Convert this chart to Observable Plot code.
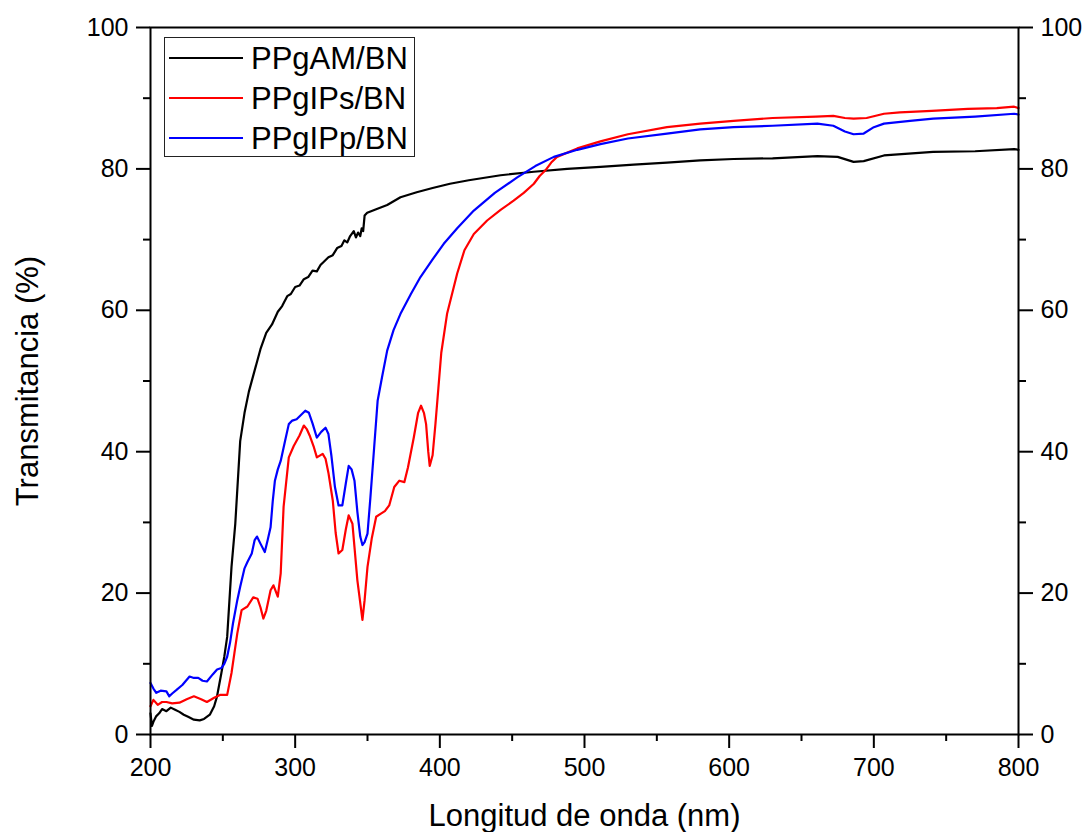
<!DOCTYPE html>
<html>
<head>
<meta charset="utf-8">
<script src="https://cdn.jsdelivr.net/npm/d3@7"></script>
<script src="https://cdn.jsdelivr.net/npm/@observablehq/plot@0.6"></script>
<style>
  html, body { margin: 0; padding: 0; background: #fff; }
  #wrap { position: relative; width: 1086px; height: 832px; font-family: "Liberation Sans", Arial, sans-serif; }
  #legend { position: absolute; left: 164px; top: 37px; width: 249px; height: 118px; border: 1.5px solid #222; background: #fff; }
  .row { position: absolute; left: 0; height: 40px; display: flex; align-items: center; }
  .row .sw { width: 74px; height: 0; border-top: 2.5px solid #000; margin-left: 4px; margin-right: 8px; }
  .row span { font-size: 31px; color: #000; line-height: 1; }
</style>
</head>
<body>
<div id="wrap"><div id="chart"></div><div id="legend"></div></div>
<script>
// ---- data ----
const seriesNames = ["PPgAM/BN", "PPgIPs/BN", "PPgIPp/BN"];
const seriesColors = ["#000000", "#ff0000", "#0000ff"];

const amNm = [200, 201, 202, 204, 206, 208, 211, 214, 217, 220, 223, 226, 230, 234, 237, 241, 244, 246, 249, 251, 253, 256, 258.6, 262, 265, 268, 272, 276, 280, 284, 288, 291, 294.5, 297, 300, 303, 306, 309, 312, 315, 317.5, 320, 323, 326, 329, 332, 334, 336, 338, 340.5, 342, 343.5, 345, 346, 347, 348, 349.8, 356, 363.6, 372.8, 384, 395, 407, 420, 442, 465, 488, 511, 534, 557, 580, 603, 630, 661, 675, 686, 693, 707, 741, 770, 797, 800];
const amT  = [3.0, 1.2, 1.8, 2.6, 3.0, 3.6, 3.3, 3.8, 3.5, 3.2, 2.8, 2.5, 2.1, 2.0, 2.2, 2.8, 4.0, 5.4, 8.7, 11.0, 13.8, 23.7, 29.8, 41.5, 45.5, 48.5, 51.5, 54.5, 56.8, 58.0, 59.8, 60.6, 62.0, 62.3, 63.3, 63.5, 64.4, 64.7, 65.6, 65.5, 66.4, 66.9, 67.5, 67.8, 68.8, 69.1, 69.9, 69.6, 70.5, 71.2, 70.3, 71.0, 70.5, 71.6, 71.2, 73.4, 73.8, 74.3, 74.9, 76.0, 76.7, 77.3, 77.9, 78.4, 79.1, 79.6, 80.0, 80.3, 80.6, 80.9, 81.2, 81.4, 81.5, 81.8, 81.7, 81.0, 81.1, 81.9, 82.4, 82.5, 82.8, 82.7];

const psNm = [200, 202, 205, 208, 211, 215, 220, 225, 230, 235, 239, 244, 248, 253, 256, 258, 260, 263, 267, 271, 274, 276, 278, 280, 283, 285, 288, 290, 292, 295.6, 299, 303, 306, 308, 310, 313, 315, 319, 321, 323, 326, 328, 330, 332.6, 335, 337, 339.6, 341, 343, 346.5, 348, 350, 353, 356, 359, 362, 365, 368.5, 372, 375.5, 378, 382, 385, 387, 389, 390.5, 392, 393, 395, 397, 399, 401, 405, 412, 417, 423.5, 432.7, 442, 451, 458, 465, 469, 473, 477, 481, 495, 511, 530, 557, 580, 603, 630, 660, 672, 680, 686, 695, 707, 718, 740, 765, 785, 797, 800];
const psT  = [4.0, 4.9, 4.2, 4.6, 4.6, 4.4, 4.5, 5.0, 5.4, 5.0, 4.6, 5.2, 5.6, 5.6, 8.7, 11.5, 14.3, 17.6, 18.1, 19.4, 19.2, 18.0, 16.4, 17.5, 20.4, 21.1, 19.5, 22.8, 32.2, 39.2, 40.8, 42.3, 43.7, 43.2, 42.3, 40.6, 39.2, 39.7, 39.0, 37.0, 33.1, 28.5, 25.6, 26.1, 29.0, 31.0, 29.8, 26.5, 21.8, 16.2, 19.0, 23.7, 27.8, 30.8, 31.2, 31.6, 32.4, 35.0, 35.9, 35.7, 37.8, 42.0, 45.5, 46.5, 45.5, 43.9, 40.0, 38.0, 39.5, 44.0, 49.0, 54.0, 59.5, 65.2, 68.5, 70.8, 72.7, 74.2, 75.5, 76.6, 77.9, 79.0, 79.8, 80.9, 81.7, 82.9, 83.9, 84.9, 85.9, 86.4, 86.8, 87.2, 87.4, 87.5, 87.2, 87.1, 87.2, 87.8, 88.0, 88.2, 88.5, 88.6, 88.8, 88.6];

const ppNm = [200, 202, 204, 207, 211, 213, 215, 218, 222, 227, 230, 233, 236, 239, 243, 246, 249, 251, 253, 255, 257, 260, 262, 265, 267, 270, 272, 273.6, 276, 279, 281, 283, 284.5, 286, 288, 290, 293, 295.6, 298, 301, 304, 307, 309.5, 312, 315, 318, 321, 323, 325, 327.5, 330, 332.6, 335, 337, 339, 341, 343, 345, 346.5, 348, 350, 352, 354.6, 357, 360, 363.6, 368, 372.8, 380, 386.6, 395, 402.7, 412, 423.5, 438, 453.5, 466, 478.8, 495, 511, 530, 557, 580, 603, 630, 661, 672, 680, 686, 693, 700, 707, 725, 741, 770, 797, 800];
const ppT  = [7.3, 6.5, 5.9, 6.2, 6.1, 5.4, 5.8, 6.3, 7.0, 8.2, 8.0, 8.0, 7.6, 7.5, 8.5, 9.2, 9.4, 10.0, 11.0, 13.0, 15.7, 19.0, 20.9, 23.5, 24.4, 25.6, 27.5, 28.0, 27.0, 25.8, 27.5, 29.3, 33.0, 35.9, 37.5, 38.7, 41.5, 43.9, 44.4, 44.6, 45.2, 45.8, 45.5, 44.0, 42.0, 42.8, 43.4, 42.5, 39.5, 35.0, 32.4, 32.4, 35.5, 38.0, 37.5, 35.9, 31.5, 28.0, 26.8, 27.2, 28.4, 33.5, 40.6, 47.2, 50.5, 54.3, 57.2, 59.5, 62.3, 64.7, 67.2, 69.4, 71.6, 74.1, 76.6, 78.8, 80.4, 81.7, 82.7, 83.5, 84.3, 85.0, 85.6, 85.9, 86.1, 86.4, 86.1, 85.3, 84.9, 85.0, 85.9, 86.4, 86.8, 87.1, 87.4, 87.8, 87.7];

const xMajor = [200, 300, 400, 500, 600, 700, 800];
const xMinor = [250, 350, 450, 550, 650, 750];
const yMajor = [0, 20, 40, 60, 80, 100];
const yMinor = [10, 30, 50, 70, 90];
const xTitle = "Longitud de onda (nm)";
const yTitle = "Transmitancia (%)";

// ---- build ----
const toRows = (nm, t) => nm.map((v, i) => ({nm: v, T: t[i]}));
const series = [toRows(amNm, amT), toRows(psNm, psT), toRows(ppNm, ppT)];
const blank = () => "";

const chart = Plot.plot({
  width: 1086,
  height: 832,
  marginLeft: 150,
  marginRight: 68,
  marginTop: 27,
  marginBottom: 98,
  style: {fontFamily: "'Liberation Sans', Arial, sans-serif", fontSize: "25px", color: "#000", background: "#fff"},
  x: {domain: [200, 800], label: null},
  y: {domain: [0, 100], label: null},
  marks: [
    ...series.map((rows, i) => Plot.line(rows, {x: "nm", y: "T", stroke: seriesColors[i], strokeWidth: 2.2})),
    Plot.frame({stroke: "#000", strokeWidth: 2}),
    Plot.axisX({ticks: xMajor, tickSize: 14, tickPadding: 10, strokeWidth: 2, fontSize: 25, label: null}),
    Plot.axisX({ticks: xMinor, tickSize: 7, tickFormat: blank, strokeWidth: 2, label: null}),
    Plot.axisY({anchor: "left", ticks: yMajor, tickSize: 14, tickPadding: 8, strokeWidth: 2, fontSize: 25, label: null}),
    Plot.axisY({anchor: "left", ticks: yMinor, tickSize: 7, tickFormat: blank, strokeWidth: 2, label: null}),
    Plot.axisY({anchor: "right", ticks: yMajor, tickSize: 14, tickPadding: 8, strokeWidth: 2, fontSize: 25, label: null}),
    Plot.axisY({anchor: "right", ticks: yMinor, tickSize: 7, tickFormat: blank, strokeWidth: 2, label: null}),
    Plot.text([xTitle], {frameAnchor: "bottom", dy: 82, fontSize: 31, fill: "#000", textAnchor: "middle", lineAnchor: "middle"}),
    Plot.text([yTitle], {frameAnchor: "left", dx: -122, rotate: -90, fontSize: 31, fill: "#000", textAnchor: "middle", lineAnchor: "middle"})
  ]
});
document.getElementById("chart").appendChild(chart);

const legend = document.getElementById("legend");
seriesNames.forEach((name, i) => {
  const row = document.createElement("div");
  row.className = "row";
  row.style.top = (0 + i * 40) + "px";
  const sw = document.createElement("div");
  sw.className = "sw";
  sw.style.borderTopColor = seriesColors[i];
  const sp = document.createElement("span");
  sp.textContent = name;
  row.appendChild(sw);
  row.appendChild(sp);
  legend.appendChild(row);
});
</script>
</body>
</html>
